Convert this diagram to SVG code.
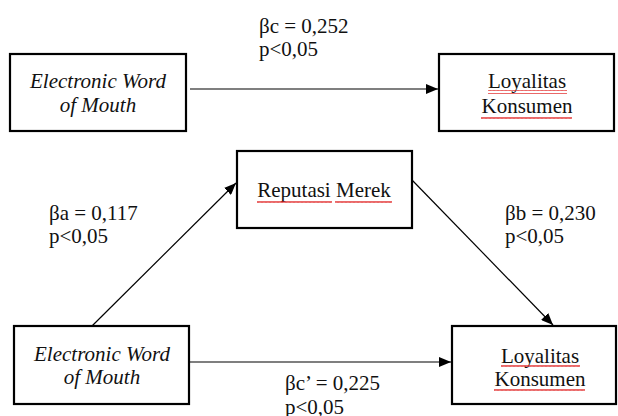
<svg xmlns="http://www.w3.org/2000/svg" width="618" height="416" viewBox="0 0 618 416">
  <style>
    text { font-family: 'Liberation Serif', 'Times New Roman', serif; }
    .box { fill: #ffffff; stroke: #000000; stroke-width: 2.2; }
    .lbl { font-size: 21px; fill: #111111; }
    .it { font-style: italic; }
    .mid { text-anchor: middle; }
    .edge { stroke: #000000; stroke-width: 1.2; fill: none; }
  </style>
  <defs>
    <marker id="arrow" viewBox="0 0 12 10" refX="12" refY="5" markerWidth="12" markerHeight="10" markerUnits="userSpaceOnUse" orient="auto">
      <path d="M0,0 L12,5 L0,10 Z" fill="#000000"/>
    </marker>
    <pattern id="squiggle" width="4" height="4" patternUnits="userSpaceOnUse">
      <path d="M0,3 L1,1 L2,3 L3,1 L4,3" stroke="#e02020" stroke-width="0.8" fill="none"/>
    </pattern>
  </defs>

  <!-- connectors -->
  <g id="connectors">
    <line class="edge" x1="190" y1="89" x2="438" y2="89" marker-end="url(#arrow)"/>
    <line class="edge" x1="92" y1="326" x2="236" y2="183" marker-end="url(#arrow)"/>
    <line class="edge" x1="412" y1="180" x2="553" y2="325" marker-end="url(#arrow)"/>
    <line class="edge" x1="190" y1="362" x2="451" y2="362" marker-end="url(#arrow)"/>
  </g>

  <!-- path coefficients -->
  <g id="coefficients">
    <text class="lbl" x="259" y="33">βc = 0,252</text>
    <text class="lbl" x="259" y="56">p&lt;0,05</text>
    <text class="lbl" x="49" y="220">βa = 0,117</text>
    <text class="lbl" x="49" y="243">p&lt;0,05</text>
    <text class="lbl" x="505" y="220">βb = 0,230</text>
    <text class="lbl" x="505" y="243">p&lt;0,05</text>
    <text class="lbl" x="285" y="390">βc’ = 0,225</text>
    <text class="lbl" x="285" y="414">p&lt;0,05</text>
  </g>

  <!-- top row: direct effect -->
  <g id="ewom-top">
    <rect class="box" x="10" y="54" width="176" height="77"/>
    <text class="lbl it mid" x="98" y="88">Electronic Word</text>
    <text class="lbl it mid" x="98" y="112">of Mouth</text>
  </g>
  <g id="loyalitas-top">
    <rect class="box" x="439" y="54" width="175" height="77"/>
    <text class="lbl mid" x="527" y="88">Loyalitas</text>
    <text class="lbl mid" x="527" y="113">Konsumen</text>
    <rect x="488" y="90" width="79" height="4" fill="url(#squiggle)"/>
    <rect x="481" y="115" width="91" height="4" fill="url(#squiggle)"/>
  </g>

  <!-- mediation model -->
  <g id="reputasi">
    <rect class="box" x="237" y="151" width="175" height="77"/>
    <text class="lbl mid" x="324" y="197">Reputasi Merek</text>
    <rect x="257" y="199" width="75" height="4" fill="url(#squiggle)"/>
    <rect x="335" y="199" width="57" height="4" fill="url(#squiggle)"/>
  </g>
  <g id="ewom-bottom">
    <rect class="box" x="14" y="326" width="175" height="78"/>
    <text class="lbl it mid" x="102" y="361">Electronic Word</text>
    <text class="lbl it mid" x="102" y="384">of Mouth</text>
  </g>
  <g id="loyalitas-bottom">
    <rect class="box" x="452" y="326" width="164" height="78"/>
    <text class="lbl mid" x="540" y="363">Loyalitas</text>
    <text class="lbl mid" x="540" y="386">Konsumen</text>
    <rect x="501" y="365" width="79" height="4" fill="url(#squiggle)"/>
    <rect x="494" y="388" width="91" height="4" fill="url(#squiggle)"/>
  </g>
</svg>
